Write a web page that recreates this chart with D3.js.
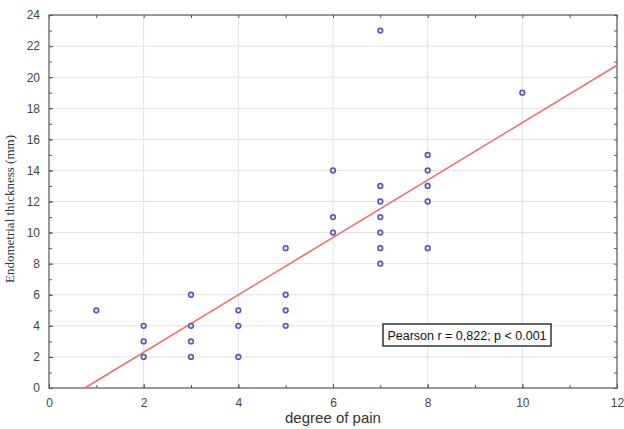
<!DOCTYPE html>
<html>
<head>
<meta charset="utf-8">
<script src="https://cdn.jsdelivr.net/npm/d3@7"></script>
<style>
  body { margin: 0; background: #fff; }
  svg { display: block; }
</style>
</head>
<body>
<div id="chart"></div>
<script>
// degree of pain vs endometrial thickness (mm)
var painDegree = [1, 2, 2, 2, 3, 3, 3, 3, 4, 4, 4, 5, 5, 5, 5, 6, 6, 6,
                  7, 7, 7, 7, 7, 7, 7, 8, 8, 8, 8, 8, 10];
var thickness  = [5, 4, 3, 2, 6, 4, 3, 2, 5, 4, 2, 9, 6, 5, 4, 14, 11, 10,
                  23, 13, 12, 11, 10, 9, 8, 15, 14, 13, 12, 9, 19];
var xTicks = [0, 2, 4, 6, 8, 10, 12];
var yTicks = [0, 2, 4, 6, 8, 10, 12, 14, 16, 18, 20, 22, 24];
var statLabel = 'Pearson r = 0,822; p < 0.001';

var W = 624, H = 429;
var margin = {top: 15, right: 7, bottom: 41, left: 49};
var w = W - margin.left - margin.right,
    h = H - margin.top - margin.bottom;

var svg = d3.select('#chart').append('svg')
    .attr('width', W)
    .attr('height', H)
    .style('font-family', 'Liberation Sans, Arial, sans-serif');

var x = d3.scaleLinear().domain([0, 12]).range([0, w]);
var y = d3.scaleLinear().domain([0, 24]).range([h, 0]);

var g = svg.append('g')
    .attr('transform', 'translate(' + margin.left + ',' + margin.top + ')');

// grid
g.append('g').selectAll('line.gx')
    .data(xTicks.slice(1, -1))
    .enter().append('line')
    .attr('x1', d => x(d)).attr('x2', d => x(d))
    .attr('y1', 0).attr('y2', h)
    .attr('stroke', '#e2e2e2').attr('stroke-width', 1);
g.append('g').selectAll('line.gy')
    .data(yTicks.slice(1, -1))
    .enter().append('line')
    .attr('x1', 0).attr('x2', w)
    .attr('y1', d => y(d)).attr('y2', d => y(d))
    .attr('stroke', '#e2e2e2').attr('stroke-width', 1);

// axes (ticks pointing inward, on all four sides)
var xMinor = d3.range(0, 13, 1), yMinor = d3.range(0, 25, 1);

g.append('g').attr('class', 'axis-x')
    .attr('transform', 'translate(0,' + h + ')')
    .call(d3.axisBottom(x).tickValues(xTicks).tickSize(-4).tickPadding(10).tickFormat(d3.format('d')));
g.append('g').call(d3.axisBottom(x).tickValues(xMinor).tickSize(-3).tickFormat(''))
    .attr('transform', 'translate(0,' + h + ')');
g.append('g').attr('class', 'axis-y')
    .call(d3.axisLeft(y).tickValues(yTicks).tickSize(-4).tickPadding(9).tickFormat(d3.format('d')));
g.append('g').call(d3.axisLeft(y).tickValues(yMinor).tickSize(-3).tickFormat(''));
g.append('g').call(d3.axisTop(x).tickValues(xMinor).tickSize(-3).tickFormat(''));
g.append('g').attr('transform', 'translate(' + w + ',0)')
    .call(d3.axisRight(y).tickValues(yMinor).tickSize(-3).tickFormat(''));

g.selectAll('.domain').remove();
g.selectAll('.tick line').attr('stroke', '#555');
g.selectAll('.tick text')
    .attr('fill', '#444')
    .style('font-size', '12px');

g.append('rect')
    .attr('width', w).attr('height', h)
    .attr('fill', 'none')
    .attr('stroke', '#555')
    .attr('stroke-width', 1.2);

// regression line (least squares on the points)
var mx = d3.mean(painDegree), my = d3.mean(thickness);
var sxy = d3.sum(painDegree, (d, i) => (d - mx) * (thickness[i] - my)),
    sxx = d3.sum(painDegree, d => (d - mx) * (d - mx));
var slope = sxy / sxx, icpt = my - slope * mx;
var x0 = -icpt / slope;

g.append('line')
    .attr('x1', x(x0)).attr('y1', y(0))
    .attr('x2', x(12)).attr('y2', y(icpt + slope * 12))
    .attr('stroke', '#ef6f6f')
    .attr('stroke-width', 1.6);

// points
g.selectAll('.pt')
    .data(painDegree.map((d, i) => ({pain: d, mm: thickness[i]})))
    .enter().append('circle')
    .attr('class', 'pt')
    .attr('cx', d => x(d.pain))
    .attr('cy', d => y(d.mm))
    .attr('r', 2.4)
    .attr('fill', '#dcdcf0')
    .attr('stroke', '#5555b0')
    .attr('stroke-width', 1.5);

// stat box
var box = g.append('g')
    .attr('transform', 'translate(' + (383 - margin.left) + ',' + (324 - margin.top) + ')');
box.append('rect')
    .attr('width', 168).attr('height', 22)
    .attr('fill', '#fff')
    .attr('stroke', '#333')
    .attr('stroke-width', 1.5);
box.append('text')
    .attr('x', 84).attr('y', 15.5)
    .attr('text-anchor', 'middle')
    .style('font-size', '12.5px')
    .attr('fill', '#111')
    .text(statLabel);

// titles
svg.append('text')
    .attr('x', margin.left + w / 2)
    .attr('y', 423)
    .attr('text-anchor', 'middle')
    .style('font-size', '15px')
    .attr('fill', '#333')
    .text('degree of pain');

svg.append('text')
    .attr('transform', 'translate(14,209) rotate(-90)')
    .attr('text-anchor', 'middle')
    .style('font-family', 'Liberation Serif, Times New Roman, serif')
    .style('font-size', '13px')
    .attr('fill', '#333')
    .text('Endometrial thickness (mm)');
</script>
</body>
</html>
